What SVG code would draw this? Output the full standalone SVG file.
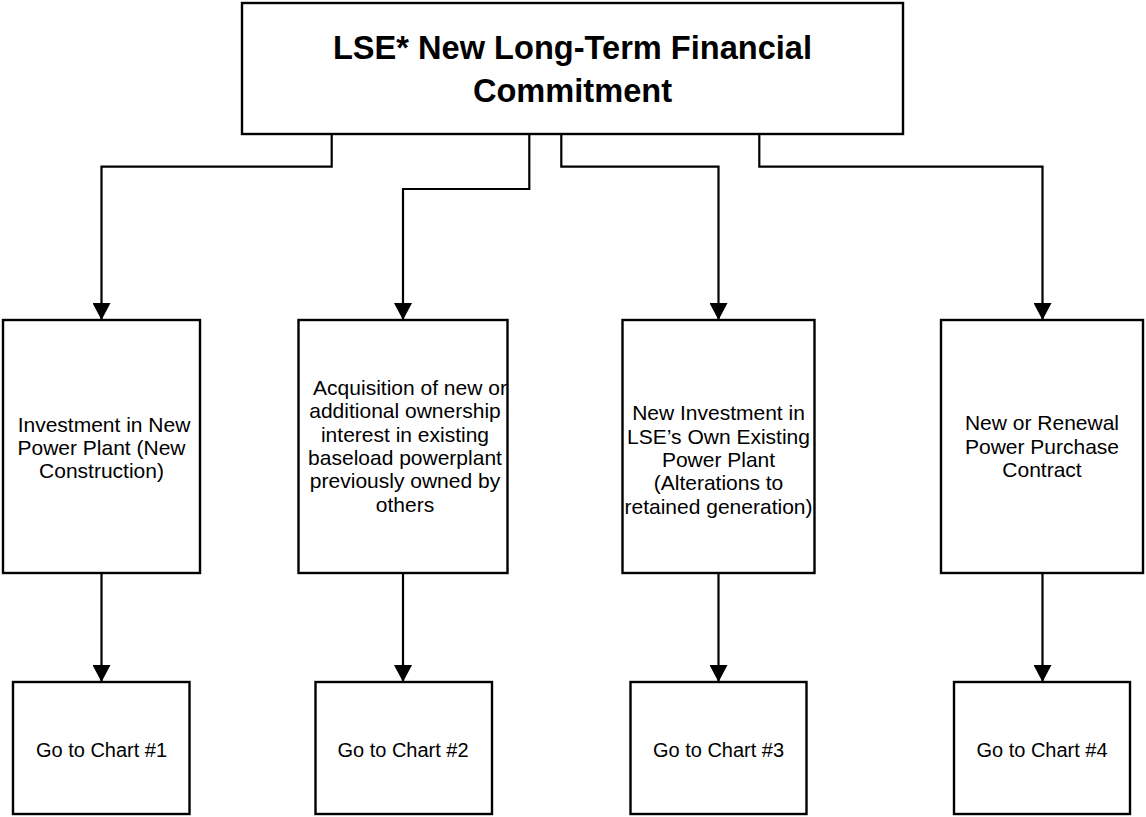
<svg xmlns="http://www.w3.org/2000/svg" width="1146" height="817" viewBox="0 0 1146 817">
<style>
.box{fill:#fff;stroke:#000;stroke-width:2.4}
.conn{fill:none;stroke:#000;stroke-width:2.2}
.t{font-family:"Liberation Sans",Arial,sans-serif;font-size:21px;fill:#000;text-anchor:middle}
.g{font-family:"Liberation Sans",Arial,sans-serif;font-size:20px;fill:#000;text-anchor:middle}
.title{font-family:"Liberation Sans",Arial,sans-serif;font-size:32.6px;font-weight:bold;fill:#000;text-anchor:middle}
</style>
<defs>
<marker id="arr" markerUnits="userSpaceOnUse" markerWidth="18" markerHeight="18" refX="17" refY="9" orient="auto" viewBox="0 0 18 18">
<path d="M0,0 L17,9 L0,18 z" fill="#000"/>
</marker>
</defs>
<rect width="1146" height="817" fill="#fff"/>
<g id="connectors">
<polyline class="conn" points="331.7,134 331.7,166.7 101.5,166.7 101.5,320" marker-end="url(#arr)"/>
<polyline class="conn" points="529.3,134 529.3,189 403,189 403,320" marker-end="url(#arr)"/>
<polyline class="conn" points="561.3,134 561.3,166.7 718.5,166.7 718.5,320" marker-end="url(#arr)"/>
<polyline class="conn" points="759.3,134 759.3,166.7 1042.5,166.7 1042.5,320" marker-end="url(#arr)"/>
<line class="conn" x1="101.5" y1="573" x2="101.5" y2="682" marker-end="url(#arr)"/>
<line class="conn" x1="403" y1="573" x2="403" y2="682" marker-end="url(#arr)"/>
<line class="conn" x1="718.5" y1="573" x2="718.5" y2="682" marker-end="url(#arr)"/>
<line class="conn" x1="1042.5" y1="573" x2="1042.5" y2="682" marker-end="url(#arr)"/>
</g>
<g id="root">
<rect class="box" x="242" y="3" width="661" height="131"/>
<text class="title" x="572.5" y="59.3">LSE* New Long-Term Financial</text>
<text class="title" x="572.5" y="101.7">Commitment</text>
</g>
<g id="n1">
<rect class="box" x="3" y="320" width="197" height="253"/>
<text class="t" x="104" y="431.7">Investment in New</text>
<text class="t" x="101.5" y="455">Power Plant (New</text>
<text class="t" x="101.5" y="478.3">Construction)</text>
</g>
<g id="n2">
<rect class="box" x="298.5" y="320" width="209" height="253"/>
<text class="t" x="410" y="395">Acquisition of new or</text>
<text class="t" x="405" y="418.3">additional ownership</text>
<text class="t" x="405" y="441.7">interest in existing</text>
<text class="t" x="405" y="465">baseload powerplant</text>
<text class="t" x="405" y="488.3">previously owned by</text>
<text class="t" x="405" y="511.7">others</text>
</g>
<g id="n3">
<rect class="box" x="622.5" y="320" width="192" height="253"/>
<text class="t" x="718.5" y="420.3">New Investment in</text>
<text class="t" x="718.5" y="443.7">LSE’s Own Existing</text>
<text class="t" x="718.5" y="467">Power Plant</text>
<text class="t" x="718.5" y="490.3">(Alterations to</text>
<text class="t" x="718.5" y="513.7">retained generation)</text>
</g>
<g id="n4">
<rect class="box" x="941" y="320" width="202" height="253"/>
<text class="t" x="1042" y="430.2">New or Renewal</text>
<text class="t" x="1042" y="453.5">Power Purchase</text>
<text class="t" x="1042" y="476.8">Contract</text>
</g>
<g id="c1">
<rect class="box" x="13" y="682" width="176.5" height="132"/>
<text class="g" x="101.5" y="757">Go to Chart #1</text>
</g>
<g id="c2">
<rect class="box" x="315.5" y="682" width="176.5" height="132"/>
<text class="g" x="403" y="757">Go to Chart #2</text>
</g>
<g id="c3">
<rect class="box" x="630.5" y="682" width="176" height="132"/>
<text class="g" x="718.5" y="757">Go to Chart #3</text>
</g>
<g id="c4">
<rect class="box" x="954" y="682" width="176" height="132"/>
<text class="g" x="1042" y="757">Go to Chart #4</text>
</g>
</svg>
